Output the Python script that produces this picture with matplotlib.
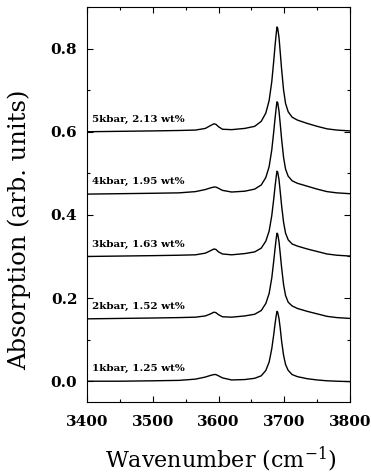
import matplotlib
matplotlib.use("Agg")
import matplotlib.pyplot as plt
from matplotlib.ticker import MultipleLocator

# wavenumber grid (cm-1), denser around the peaks
wavenumber = [3400, 3450, 3500, 3540, 3565, 3580, 3588, 3593, 3596, 3600, 3606,
              3620, 3640, 3655, 3665, 3672, 3677, 3681, 3684, 3686, 3688, 3689,
              3690, 3692, 3694, 3696, 3699, 3702, 3706, 3712, 3720, 3735, 3750,
              3765, 3780, 3800]

# absorbance above each baseline
abs_1kbar = [0.0, 0.0, 0.001, 0.002, 0.005, 0.010, 0.014, 0.016, 0.016, 0.013, 0.008,
             0.003, 0.004, 0.007, 0.013, 0.026, 0.046, 0.078, 0.112, 0.138, 0.160, 0.168,
             0.166, 0.151, 0.126, 0.096, 0.062, 0.040, 0.026, 0.016, 0.011, 0.006, 0.003,
             0.001, 0.0, -0.001]
abs_2kbar = [0.0, 0.001, 0.002, 0.003, 0.004, 0.007, 0.012, 0.016, 0.015, 0.010, 0.005,
             0.004, 0.007, 0.011, 0.020, 0.037, 0.061, 0.098, 0.139, 0.169, 0.196, 0.206,
             0.204, 0.186, 0.155, 0.123, 0.082, 0.056, 0.040, 0.031, 0.025, 0.018, 0.012,
             0.006, 0.003, 0.001]
abs_3kbar = [0.0, 0.001, 0.002, 0.003, 0.004, 0.008, 0.014, 0.018, 0.017, 0.011, 0.006,
             0.004, 0.007, 0.011, 0.020, 0.037, 0.061, 0.098, 0.138, 0.168, 0.195, 0.205,
             0.203, 0.185, 0.154, 0.122, 0.082, 0.056, 0.040, 0.030, 0.025, 0.018, 0.012,
             0.006, 0.003, 0.001]
abs_4kbar = [0.0, 0.001, 0.002, 0.003, 0.006, 0.011, 0.015, 0.017, 0.017, 0.014, 0.009,
             0.005, 0.007, 0.012, 0.022, 0.040, 0.066, 0.106, 0.150, 0.182, 0.211, 0.222,
             0.220, 0.200, 0.167, 0.132, 0.088, 0.060, 0.043, 0.032, 0.026, 0.019, 0.012,
             0.006, 0.003, 0.001]
abs_5kbar = [0.0, 0.001, 0.002, 0.003, 0.004, 0.008, 0.015, 0.019, 0.018, 0.012, 0.006,
             0.005, 0.008, 0.013, 0.025, 0.045, 0.075, 0.120, 0.170, 0.207, 0.239, 0.252,
             0.249, 0.227, 0.189, 0.150, 0.100, 0.068, 0.048, 0.035, 0.028, 0.020, 0.013,
             0.007, 0.004, 0.002]

spectra = [abs_1kbar, abs_2kbar, abs_3kbar, abs_4kbar, abs_5kbar]
offsets = [0.0, 0.15, 0.30, 0.45, 0.60]
labels = ["1kbar, 1.25 wt%", "2kbar, 1.52 wt%", "3kbar, 1.63 wt%",
          "4kbar, 1.95 wt%", "5kbar, 2.13 wt%"]

plt.rcParams["font.family"] = "DejaVu Serif"
plt.rcParams["mathtext.fontset"] = "dejavuserif"

fig = plt.figure(figsize=(3.71, 4.73), dpi=100)
ax = fig.add_axes([87 / 371, 1 - 402 / 473, 263 / 371, 395 / 473])

for y, off, lab in zip(spectra, offsets, labels):
    ax.plot(wavenumber, [v + off for v in y], color="black", lw=1.0)
    ax.text(3407, off + 0.024, lab, fontsize=7.5, fontweight="bold", va="baseline")

ax.set_xlim(3400, 3800)
ax.set_ylim(-0.05, 0.9)
ax.xaxis.set_major_locator(MultipleLocator(100))
ax.xaxis.set_minor_locator(MultipleLocator(50))
ax.yaxis.set_major_locator(MultipleLocator(0.2))
ax.yaxis.set_minor_locator(MultipleLocator(0.1))
ax.tick_params(which="both", direction="in", top=True, right=True, width=0.8)
ax.tick_params(which="major", length=4)
ax.tick_params(which="minor", length=2.5)
ax.tick_params(axis="x", pad=9)
ax.tick_params(axis="y", pad=7)
for t in ax.get_xticklabels() + ax.get_yticklabels():
    t.set_fontsize(11)
    t.set_fontweight("bold")

fig.text(221 / 371, 1 - 467 / 473, "Wavenumber (cm$^{\\mathregular{-1}}$)",
         fontsize=16, ha="center", va="baseline")
fig.text(19 / 371, 1 - 230 / 473, "Absorption (arb. units)",
         fontsize=17.5, ha="center", va="center", rotation=90)

fig.savefig("out.png", dpi=100)
